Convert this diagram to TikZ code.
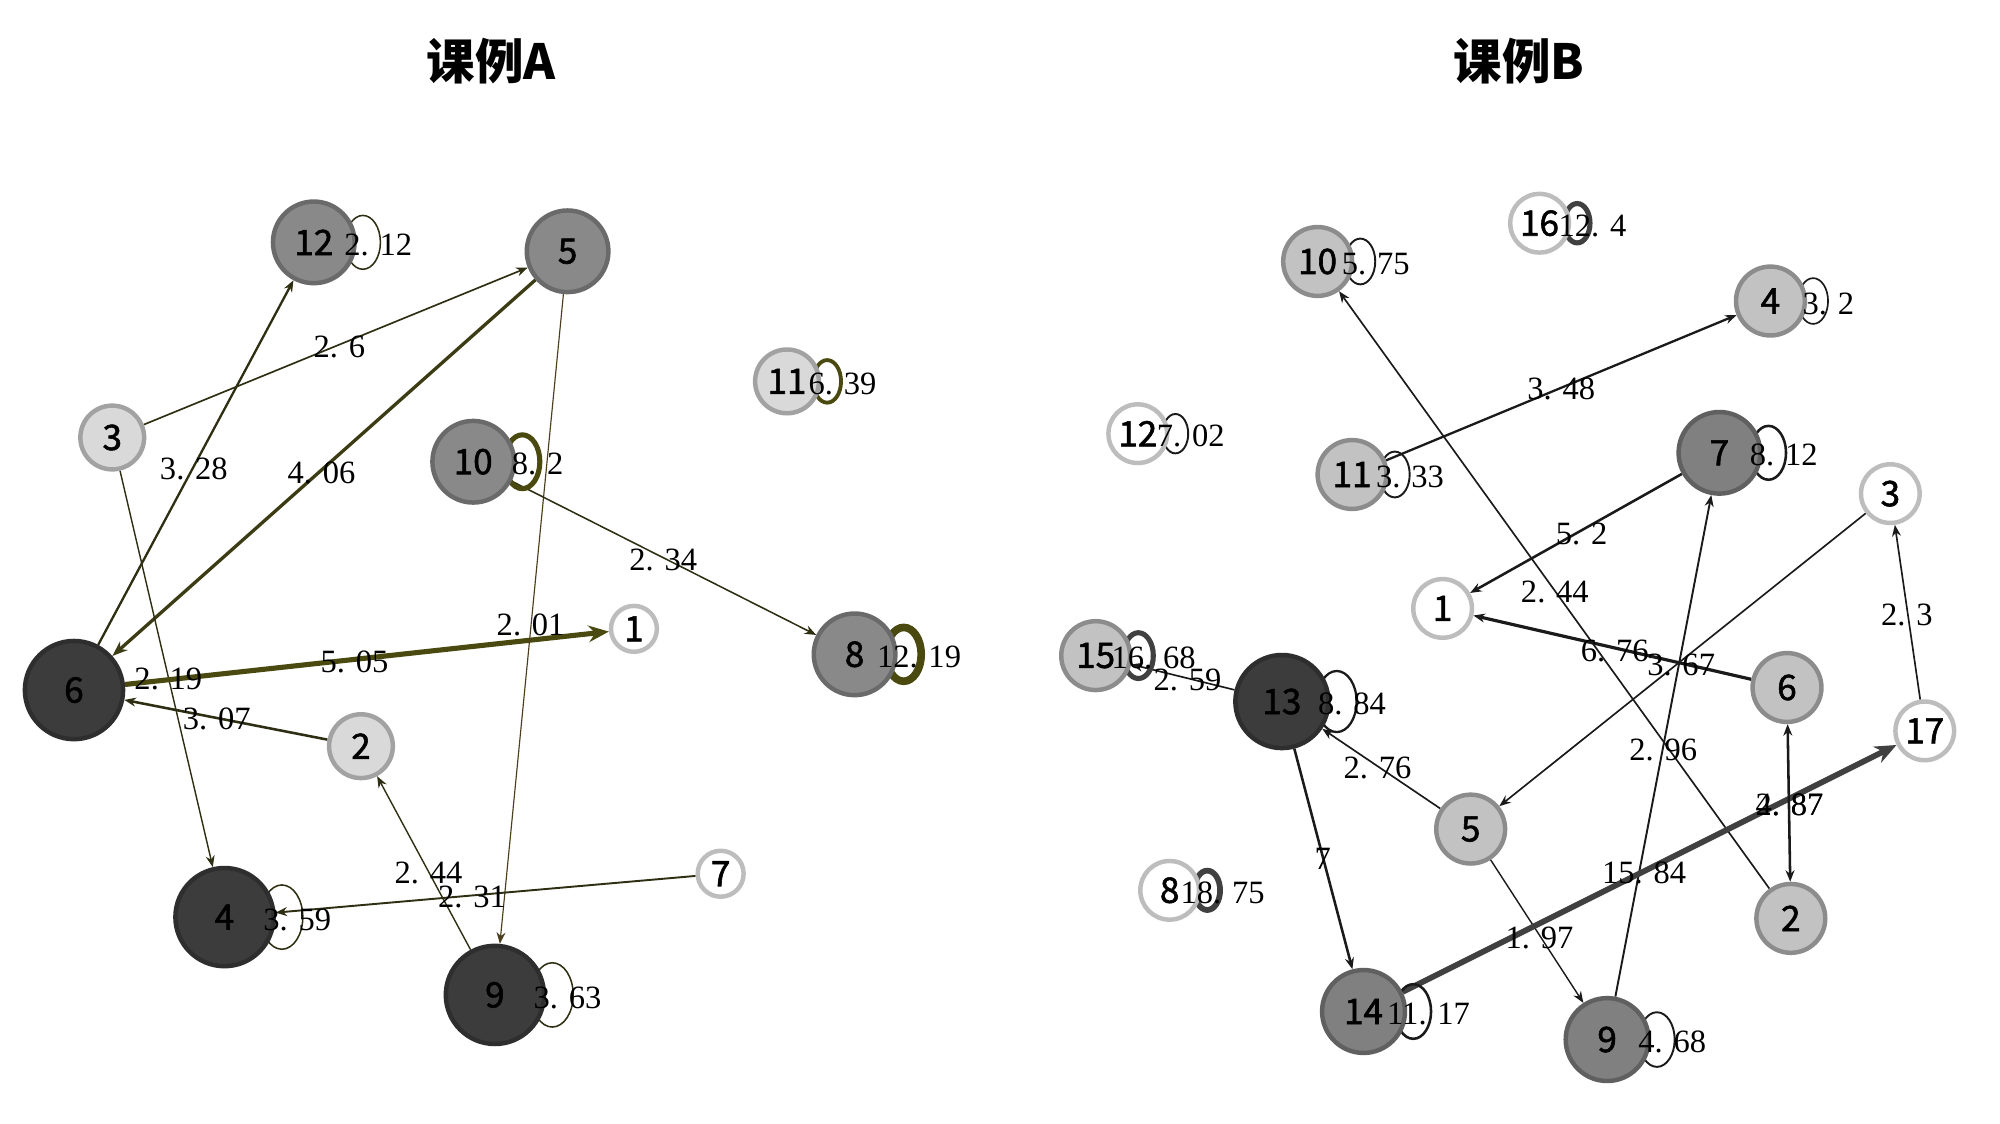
\documentclass[tikz,border=0pt]{standalone}
\usepackage{fontspec}
\setmainfont{Liberation Serif}
\newfontfamily\cjk{Noto Sans CJK SC}
\newfontfamily\cjkm[FakeBold=1.6]{Noto Sans CJK SC}
\usetikzlibrary{arrows.meta}
\pgfdeclarelayer{background}
\pgfdeclarelayer{bottom}
\pgfsetlayers{bottom,background,main}
\definecolor{dkf}{HTML}{3C3C3C}
\definecolor{dkb}{HTML}{2E2E2E}
\definecolor{mdf}{HTML}{898989}
\definecolor{mdb}{HTML}{6A6A6A}
\definecolor{ltf}{HTML}{D9D9D9}
\definecolor{ltb}{HTML}{A2A2A2}
\definecolor{bmdf}{HTML}{808080}
\definecolor{bmdb}{HTML}{606060}
\definecolor{bltf}{HTML}{C2C2C2}
\definecolor{bltb}{HTML}{8C8C8C}
\definecolor{wtb}{HTML}{BDBDBD}
\definecolor{olA}{HTML}{2E2E12}
\definecolor{olB}{HTML}{3C3C14}
\definecolor{olC}{HTML}{4A4A10}
\definecolor{edB}{HTML}{1A1A1A}
\definecolor{edT}{HTML}{404040}
\tikzset{
  gn/.style={circle, inner sep=0pt, line width=3.5pt, font=\cjkm\fontsize{27.5}{27.5}\selectfont},
  dk/.style={gn, fill=dkf, draw=dkb},
  md/.style={gn, fill=mdf, draw=mdb},
  lt/.style={gn, fill=ltf, draw=ltb},
  bmd/.style={gn, fill=bmdf, draw=bmdb},
  blt/.style={gn, fill=bltf, draw=bltb},
  wt/.style={gn, fill=white, draw=wtb},
  elab/.style={font=\fontsize{25.5}{25.5}\selectfont, inner sep=0pt},
  ttl/.style={font=\cjk\bfseries\fontsize{38}{38}\selectfont, inner sep=0pt},
  ea/.style={draw=olA, -{Stealth[length=9pt,width=7pt]}},
  eb/.style={draw=edB, -{Stealth[length=9pt,width=7pt]}},
}
\newcommand{\GN}[6]{\node[#5, minimum size={2*#4pt-3pt}] (#1) at (#2,#3) {#6};}
\newcommand{\SL}[7]{%
  \begin{pgfonlayer}{background}
  \draw[line width=#5, draw=#6] ({#2+#4+5},#3) ellipse [x radius={0.41*#4 pt}, y radius={0.63*#4 pt}];
  \end{pgfonlayer}
  \node[elab] (#1) at ({#2+#4+17},{#3+2}) {#7};}
\begin{document}
\begin{tikzpicture}[x=1pt,y=-1pt]
\begin{pgfonlayer}{bottom}
\fill[white] (0,0) rectangle (1568,881);
\end{pgfonlayer}
\useasboundingbox (0,0) rectangle (1568,881);
% titles
\node[ttl] (tA) at (385,48) {课例A};
\node[ttl] (tB) at (1191,48) {课例B};
% ---------- graph A nodes
\GN{a12}{246}{190}{33.5}{md}{12}
\GN{a5}{445}{197}{33.5}{md}{5}
\GN{a3}{88}{343}{26.5}{lt}{3}
\GN{a10}{371}{362}{33.5}{md}{10}
\GN{a11}{617}{299}{26.5}{lt}{11}
\GN{a1}{497}{493}{19.5}{wt}{1}
\GN{a8}{670}{513}{33.5}{md}{8}
\GN{a6}{58}{541}{40}{dk}{6}
\GN{a2}{283}{585}{26.5}{lt}{2}
\GN{a4}{176}{719}{40}{dk}{4}
\GN{a7}{565}{685}{19.5}{wt}{7}
\GN{a9}{388}{780}{40}{dk}{9}
% ---------- graph B nodes
\GN{b16}{1207}{175}{24.5}{wt}{16}
\GN{b10}{1033}{205}{28.5}{blt}{10}
\GN{b4}{1388}{236}{28.5}{blt}{4}
\GN{b12}{892}{340}{24.5}{wt}{12}
\GN{b11}{1060}{372}{28.5}{blt}{11}
\GN{b7}{1348}{355}{33.5}{bmd}{7}
\GN{b3}{1482}{387}{24.5}{wt}{3}
\GN{b1}{1131}{477}{24.5}{wt}{1}
\GN{b15}{859}{514}{28.5}{blt}{15}
\GN{b13}{1005}{550}{38}{dk}{13}
\GN{b6}{1401}{539}{28.5}{blt}{6}
\GN{b17}{1509}{573}{24.5}{wt}{17}
\GN{b5}{1153}{650}{28.5}{blt}{5}
\GN{b2}{1404}{720}{28.5}{blt}{2}
\GN{b8}{917}{698}{24.5}{wt}{8}
\GN{b14}{1069}{793}{34}{bmd}{14}
\GN{b9}{1260}{815}{34}{bmd}{9}
% ---------- edges A
\begin{pgfonlayer}{background}
\draw[ea, line width=1.3pt] (a3) -- (a5);
\draw[ea, line width=1.8pt] (a6) -- (a12);
\draw[ea, draw=olB, line width=2.6pt, -{Stealth[length=12pt,width=9pt]}] (a5) -- (a6);
\draw[ea, line width=1.1pt] (a3) -- (a4);
\draw[ea, draw=olC, line width=4pt, -{Stealth[length=16pt,width=13pt]}] (a6) -- (a1);
\draw[ea, draw=olA!80!brown, line width=0.9pt] (a5) -- (a9);
\draw[ea, line width=1.2pt] (a10) -- (a8);
\draw[ea, line width=2pt] (a2) -- (a6);
\draw[ea, line width=1.1pt] (a9) -- (a2);
\draw[ea, line width=1.5pt] (a7) -- (a4);
% ---------- edges B
\draw[eb, line width=1.8pt] (b11) -- (b4);
\draw[eb, line width=1.3pt] (b2) -- (b10);
\draw[eb, line width=2pt] (b7) -- (b1);
\draw[eb, line width=2.5pt] (b6) -- (b1);
\draw[eb, line width=1.3pt] (b3) -- (b5);
\draw[eb, line width=1.5pt] (b9) -- (b7);
\draw[eb, line width=1.3pt] (b17) -- (b3);
\draw[eb, line width=1.3pt] (b5) -- (b13);
\draw[eb, line width=1.3pt] (b13) -- (b15);
\draw[eb, line width=2pt] (b13) -- (b14);
\draw[eb, line width=1.1pt] (b5) -- (b9);
\draw[eb, draw=edT, line width=4.5pt, -{Stealth[length=17pt,width=14pt]}] (b14) -- (b17);
\draw[eb, line width=2pt, {Stealth[length=9pt,width=7pt]}-{Stealth[length=9pt,width=7pt]}] (b6) -- (b2);
\end{pgfonlayer}
% ---------- self loops A
\SL{la12}{246}{190}{33.5}{1.2pt}{olA}{2. 12}
\SL{la10}{371}{362}{33.5}{4pt}{olC}{8. 2}
\SL{la11}{617}{299}{26.5}{3pt}{olC}{6. 39}
\SL{la8}{670}{513}{33.5}{6pt}{olC}{12. 19}
\SL{la4}{176}{719}{40}{1.2pt}{olA}{3. 59}
\SL{la9}{388}{780}{40}{1.2pt}{olA}{3. 63}
% ---------- self loops B
\SL{lb16}{1207}{175}{24.5}{4pt}{edT}{12. 4}
\SL{lb10}{1033}{205}{28.5}{1.5pt}{edB}{5. 75}
\SL{lb4}{1388}{236}{28.5}{1.3pt}{edB}{3. 2}
\SL{lb12}{892}{340}{24.5}{1.5pt}{edB}{7. 02}
\SL{lb11}{1060}{372}{28.5}{1.5pt}{edB}{3. 33}
\SL{lb7}{1348}{355}{33.5}{2pt}{edB}{8. 12}
\SL{lb15}{859}{514}{28.5}{4pt}{edT}{16. 68}
\SL{lb13}{1005}{550}{38}{1.8pt}{edB}{8. 84}
\SL{lb8}{917}{698}{24.5}{4.5pt}{edT}{18. 75}
\SL{lb14}{1069}{793}{34}{2pt}{edB}{11. 17}
\SL{lb9}{1260}{815}{34}{1.5pt}{edB}{4. 68}
% ---------- edge labels A
\node[elab] (ea1) at (266,272) {2. 6};
\node[elab] (ea2) at (152,368) {3. 28};
\node[elab] (ea3) at (252,371) {4. 06};
\node[elab] (ea4) at (132,532) {2. 19};
\node[elab] (ea5) at (278,519) {5. 05};
\node[elab] (ea6) at (416,490) {2. 01};
\node[elab] (ea7) at (520,439) {2. 34};
\node[elab] (ea8) at (170,564) {3. 07};
\node[elab] (ea9) at (336,684) {2. 44};
\node[elab] (ea10) at (370,703) {2. 31};
% ---------- edge labels B
\node[elab] (eb1) at (1224,305) {3. 48};
\node[elab] (eb2) at (1219,464) {2. 44};
\node[elab] (eb3) at (1240,419) {5. 2};
\node[elab] (eb4) at (1266,510) {6. 76};
\node[elab] (eb5) at (1318,521) {3. 67};
\node[elab] (eb6) at (1304,588) {2. 96};
\node[elab] (eb7) at (1495,482) {2. 3};
\node[elab] (eb8) at (1080,602) {2. 76};
\node[elab] (eb9) at (931,533) {2. 59};
\node[elab] (eb10) at (1037,673) {7};
\node[elab] (eb11) at (1207,735) {1. 97};
\node[elab] (eb12) at (1289,684) {15. 84};
\node[elab] (eb13) at (1403,631) {2. 87};
\node[elab] (eb14) at (1403,631) {4. 87};
\end{tikzpicture}
\end{document}
